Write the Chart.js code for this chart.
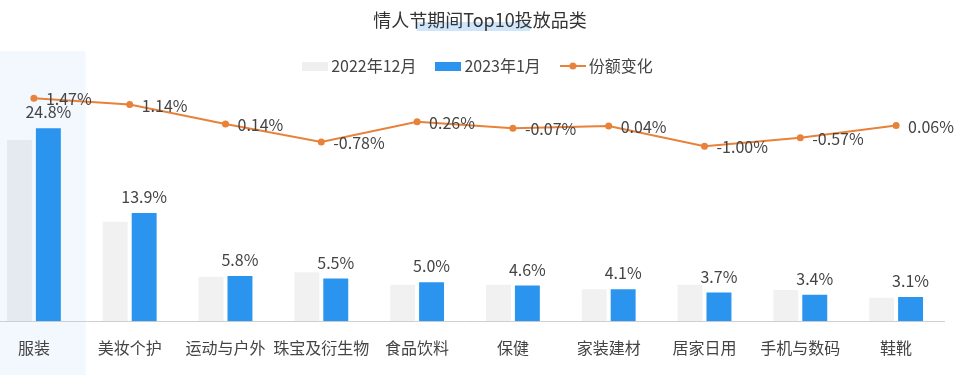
<!DOCTYPE html>
<html lang="zh">
<head>
<meta charset="utf-8">
<title>情人节期间Top10投放品类</title>
<script src="https://cdn.jsdelivr.net/npm/chart.js@4.4.1/dist/chart.umd.min.js"></script>
<style>
  html, body { margin: 0; padding: 0; background: #fff; overflow: hidden; }
  #wrap { position: absolute; left: -18px; top: 0; width: 996px; height: 375px; }
</style>
</head>
<body>
<div id="wrap"><canvas id="myChart"></canvas></div>
<script>
// chart data
const categories = ['服装', '美妆个护', '运动与户外', '珠宝及衍生物', '食品饮料', '保健', '家装建材', '居家日用', '手机与数码', '鞋靴'];
const dec2022 = [23.3, 12.8, 5.7, 6.3, 4.7, 4.7, 4.1, 4.7, 4.0, 3.0];
const jan2023 = [24.8, 13.9, 5.8, 5.5, 5.0, 4.6, 4.1, 3.7, 3.4, 3.1];
const shareChange = [1.47, 1.14, 0.14, -0.78, 0.26, -0.07, 0.04, -1.00, -0.57, 0.06];
const seriesNames = ['2022年12月', '2023年1月', '份额变化'];

const FONT = "'Noto Sans CJK SC', 'Noto Sans', sans-serif";
const GRAY = 'rgba(0, 0, 0, 0.055)';
const BLUE = '#2b94ee';
const ORANGE = '#e8823a';
const TEXT = '#444';

// little canvases used as legend markers
function makeIcon(draw) {
    const c = document.createElement('canvas');
    c.width = 26;
    c.height = 10;
    draw(c.getContext('2d'));
    return c;
}
const iconGray = makeIcon(ctx => { ctx.fillStyle = '#efefef'; ctx.fillRect(0, 1, 26, 9); });
const iconBlue = makeIcon(ctx => { ctx.fillStyle = BLUE; ctx.fillRect(0, 1, 26, 9); });
const iconLine = makeIcon(ctx => {
    ctx.strokeStyle = ORANGE;
    ctx.lineWidth = 2;
    ctx.beginPath(); ctx.moveTo(0, 5); ctx.lineTo(26, 5); ctx.stroke();
    ctx.fillStyle = ORANGE;
    ctx.beginPath(); ctx.arc(13, 5, 3.5, 0, Math.PI * 2); ctx.fill();
});

// title + legend are centred on the whole canvas, not on the plot area
const recenter = {
    id: 'recenter',
    afterLayout(chart) {
        [chart.titleBlock, chart.legend].forEach(box => {
            if (!box) return;
            const shift = chart.width / 2 - (box.left + box.right) / 2;
            box.left += shift;
            box.right += shift;
        });
    }
};

// light band behind the first category + the highlight under the title
const backdrop = {
    id: 'backdrop',
    beforeDraw(chart) {
        const { ctx, scales: { x } } = chart;
        const step = x.getPixelForValue(1) - x.getPixelForValue(0);
        const right = x.getPixelForValue(0) + step * 0.54;
        ctx.save();
        ctx.fillStyle = '#f3f8ff';
        ctx.fillRect(0, 51, right, chart.height - 51);
        // soft highlight under part of the title
        const cx = chart.width / 2;
        ctx.fillStyle = 'rgba(120, 180, 240, 0.35)';
        ctx.fillRect(cx - 63, 22, 113, 9);
        ctx.restore();
    }
};

// value labels
const valueLabels = {
    id: 'valueLabels',
    afterDatasetsDraw(chart) {
        const { ctx } = chart;
        ctx.save();
        ctx.font = `16px ${FONT}`;
        ctx.fillStyle = TEXT;
        ctx.textBaseline = 'middle';

        const blueMeta = chart.getDatasetMeta(1);
        ctx.textAlign = 'center';
        blueMeta.data.forEach((bar, i) => {
            ctx.fillText(jan2023[i].toFixed(1) + '%', bar.x, bar.y - 16);
        });

        const lineMeta = chart.getDatasetMeta(2);
        ctx.textAlign = 'left';
        lineMeta.data.forEach((pt, i) => {
            ctx.fillText(shareChange[i].toFixed(2) + '%', pt.x + 12, pt.y + 1);
        });
        ctx.restore();
    }
};

function createChart() {
    const ctx = document.getElementById('myChart').getContext('2d');
    Chart.defaults.font.family = FONT;
    Chart.defaults.color = TEXT;

    new Chart(ctx, {
        type: 'bar',
        data: {
            labels: categories,
            datasets: [
                {
                    label: seriesNames[0],
                    data: dec2022,
                    backgroundColor: GRAY,
                    yAxisID: 'y',
                    categoryPercentage: 0.604,
                    barPercentage: 0.862,
                    order: 1
                },
                {
                    label: seriesNames[1],
                    data: jan2023,
                    backgroundColor: BLUE,
                    yAxisID: 'y',
                    categoryPercentage: 0.604,
                    barPercentage: 0.862,
                    order: 1
                },
                {
                    type: 'line',
                    label: seriesNames[2],
                    data: shareChange,
                    borderColor: ORANGE,
                    backgroundColor: ORANGE,
                    borderWidth: 2,
                    pointRadius: 3.5,
                    pointBackgroundColor: ORANGE,
                    pointBorderWidth: 0,
                    tension: 0,
                    yAxisID: 'y1',
                    order: 0
                }
            ]
        },
        options: {
            responsive: true,
            maintainAspectRatio: false,
            animation: false,
            events: [],
            layout: { padding: { left: 0, right: 34, top: 0, bottom: 0.6 } },
            plugins: {
                title: {
                    display: true,
                    text: '情人节期间Top10投放品类',
                    color: '#333',
                    font: { size: 18, weight: 'normal' },
                    padding: { top: 9.5, bottom: 2.9 }
                },
                legend: {
                    position: 'top',
                    labels: {
                        usePointStyle: true,
                        pointStyleWidth: 16,
                        boxHeight: 10,
                        padding: 24,
                        color: TEXT,
                        font: { size: 16 },
                        generateLabels: chart => chart.data.datasets.map((ds, i) => ({
                            text: ds.label,
                            pointStyle: [iconGray, iconBlue, iconLine][i],
                            fillStyle: 'transparent',
                            strokeStyle: 'transparent',
                            lineWidth: 0,
                            datasetIndex: i,
                            fontColor: TEXT
                        }))
                    }
                },
                tooltip: { enabled: false }
            },
            scales: {
                x: {
                    grid: { display: false, drawTicks: false },
                    border: { display: true, color: '#cfcfcf', width: 1 },
                    ticks: { padding: 17, color: TEXT, font: { size: 16 }, maxRotation: 0, autoSkip: false }
                },
                y: { display: false, min: 0, max: 30.5 },
                y1: { display: false, min: -10, max: 2.2 }
            }
        },
        plugins: [recenter, backdrop, valueLabels]
    });
}

createChart();
</script>
</body>
</html>
